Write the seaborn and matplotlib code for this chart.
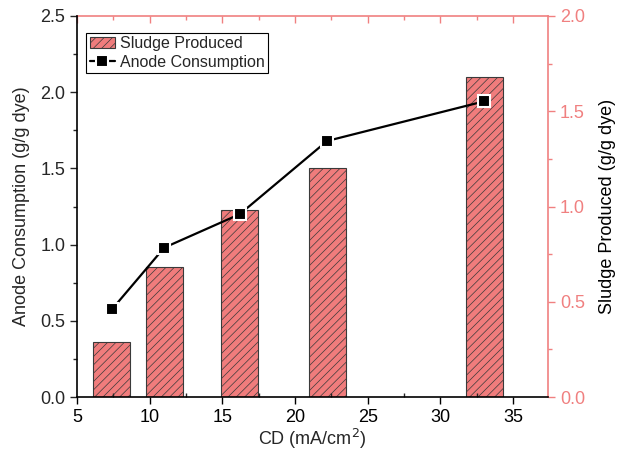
import matplotlib
matplotlib.use("Agg")
import matplotlib.pyplot as plt
from matplotlib.ticker import MultipleLocator, FormatStrFormatter
from matplotlib.patches import Patch
from matplotlib.lines import Line2D
import seaborn as sns
import pandas as pd

cd = [7.4, 11.0, 16.2, 22.2, 33.0]
sludge = [0.29, 0.68, 0.98, 1.20, 1.68]
anode = [0.575, 0.98, 1.20, 1.68, 1.94]

sns.set_style("ticks")
plt.rcParams['font.family'] = ['Liberation Sans', 'DejaVu Sans']
plt.rcParams['hatch.linewidth'] = 0.5

PINK = '#F08080'
BAR = '#F07C7C'
EDGE = '#3a3a3a'

df = pd.DataFrame({'cd': cd, 'sludge': sludge, 'anode': anode})

fig = plt.figure(figsize=(6.17, 4.65), dpi=100)
ax = fig.add_axes([0.1248, 0.1462, 0.7635, 0.8194])
ax2 = ax.twinx()

sns.barplot(data=df, x='cd', y='sludge', native_scale=True, width=0.708,
            color=BAR, saturation=1, edgecolor=EDGE, linewidth=0.8,
            ax=ax2)
for p in ax2.patches:
    p.set_facecolor(BAR)
    p.set_hatch('////')

sns.lineplot(data=df, x='cd', y='anode', color='black', marker='s',
             markersize=8, markeredgecolor='white', markeredgewidth=1.5,
             markerfacecolor='black', linewidth=1.6, ax=ax)

ax.set_zorder(ax2.get_zorder() + 1)
ax.patch.set_visible(False)

ax.set_xlim(5, 37.4)
ax.set_ylim(0, 2.5)
ax2.set_ylim(0, 2.0)

ax.xaxis.set_major_locator(MultipleLocator(5))
ax.xaxis.set_minor_locator(MultipleLocator(2.5))
ax.yaxis.set_major_locator(MultipleLocator(0.5))
ax.yaxis.set_minor_locator(MultipleLocator(0.25))
ax.yaxis.set_major_formatter(FormatStrFormatter('%.1f'))
ax2.yaxis.set_major_locator(MultipleLocator(0.5))
ax2.yaxis.set_minor_locator(MultipleLocator(0.25))
ax2.yaxis.set_major_formatter(FormatStrFormatter('%.1f'))

ax.tick_params(axis='x', which='major', direction='out', length=5, width=1, labelsize=13, colors='black')
ax.tick_params(axis='x', which='minor', direction='in', length=3, width=1)
ax.tick_params(axis='y', which='major', direction='out', length=5, width=1, labelsize=13)
ax.tick_params(axis='y', which='minor', direction='out', length=3, width=1)
ax2.tick_params(axis='y', which='major', direction='out', length=5, width=1, labelsize=13, colors=PINK)
ax2.tick_params(axis='y', which='minor', direction='out', length=3, width=1, colors=PINK)

for s in ['left', 'bottom']:
    ax.spines[s].set_color('black')
    ax.spines[s].set_linewidth(1.2)
ax.spines['right'].set_visible(False)
ax.spines['top'].set_visible(False)
ax2.spines['left'].set_visible(False)
ax2.spines['bottom'].set_visible(False)
ax2.spines['right'].set_visible(True)
ax2.spines['top'].set_visible(True)
ax2.spines['right'].set_color(PINK)
ax2.spines['top'].set_color(PINK)
ax2.spines['right'].set_linewidth(1.2)
ax2.spines['top'].set_linewidth(1.2)

sec = ax.secondary_xaxis('top')
sec.xaxis.set_major_locator(MultipleLocator(5))
sec.xaxis.set_minor_locator(MultipleLocator(2.5))
sec.tick_params(axis='x', which='major', direction='in', length=5, width=1, colors=PINK, labeltop=False)
sec.tick_params(axis='x', which='minor', direction='in', length=3, width=1, colors=PINK)
sec.spines['top'].set_visible(False)

ax.set_xlabel('CD (mA/cm$^2$)', fontsize=13, labelpad=1)
ax.set_ylabel('Anode Consumption (g/g dye)', fontsize=13, labelpad=7)
ax2.set_ylabel('Sludge Produced (g/g dye)', fontsize=13, color='black', labelpad=10)

handles = [Patch(facecolor=BAR, edgecolor=EDGE, hatch='////', linewidth=0.8),
           Line2D([], [], color='black', marker='s', markersize=8,
                  markeredgecolor='white', markeredgewidth=1.5, linewidth=1.6)]
leg = ax.legend(handles, ['Sludge Produced', 'Anode Consumption'],
                loc='upper left', bbox_to_anchor=(0.02, 0.955), fontsize=11.5,
                frameon=True, fancybox=False, edgecolor='black', framealpha=1,
                handlelength=1.6, handletextpad=0.3, borderpad=0.2,
                labelspacing=0.2, borderaxespad=0)
leg.get_frame().set_linewidth(0.8)

fig.savefig('out.png', dpi=100)
